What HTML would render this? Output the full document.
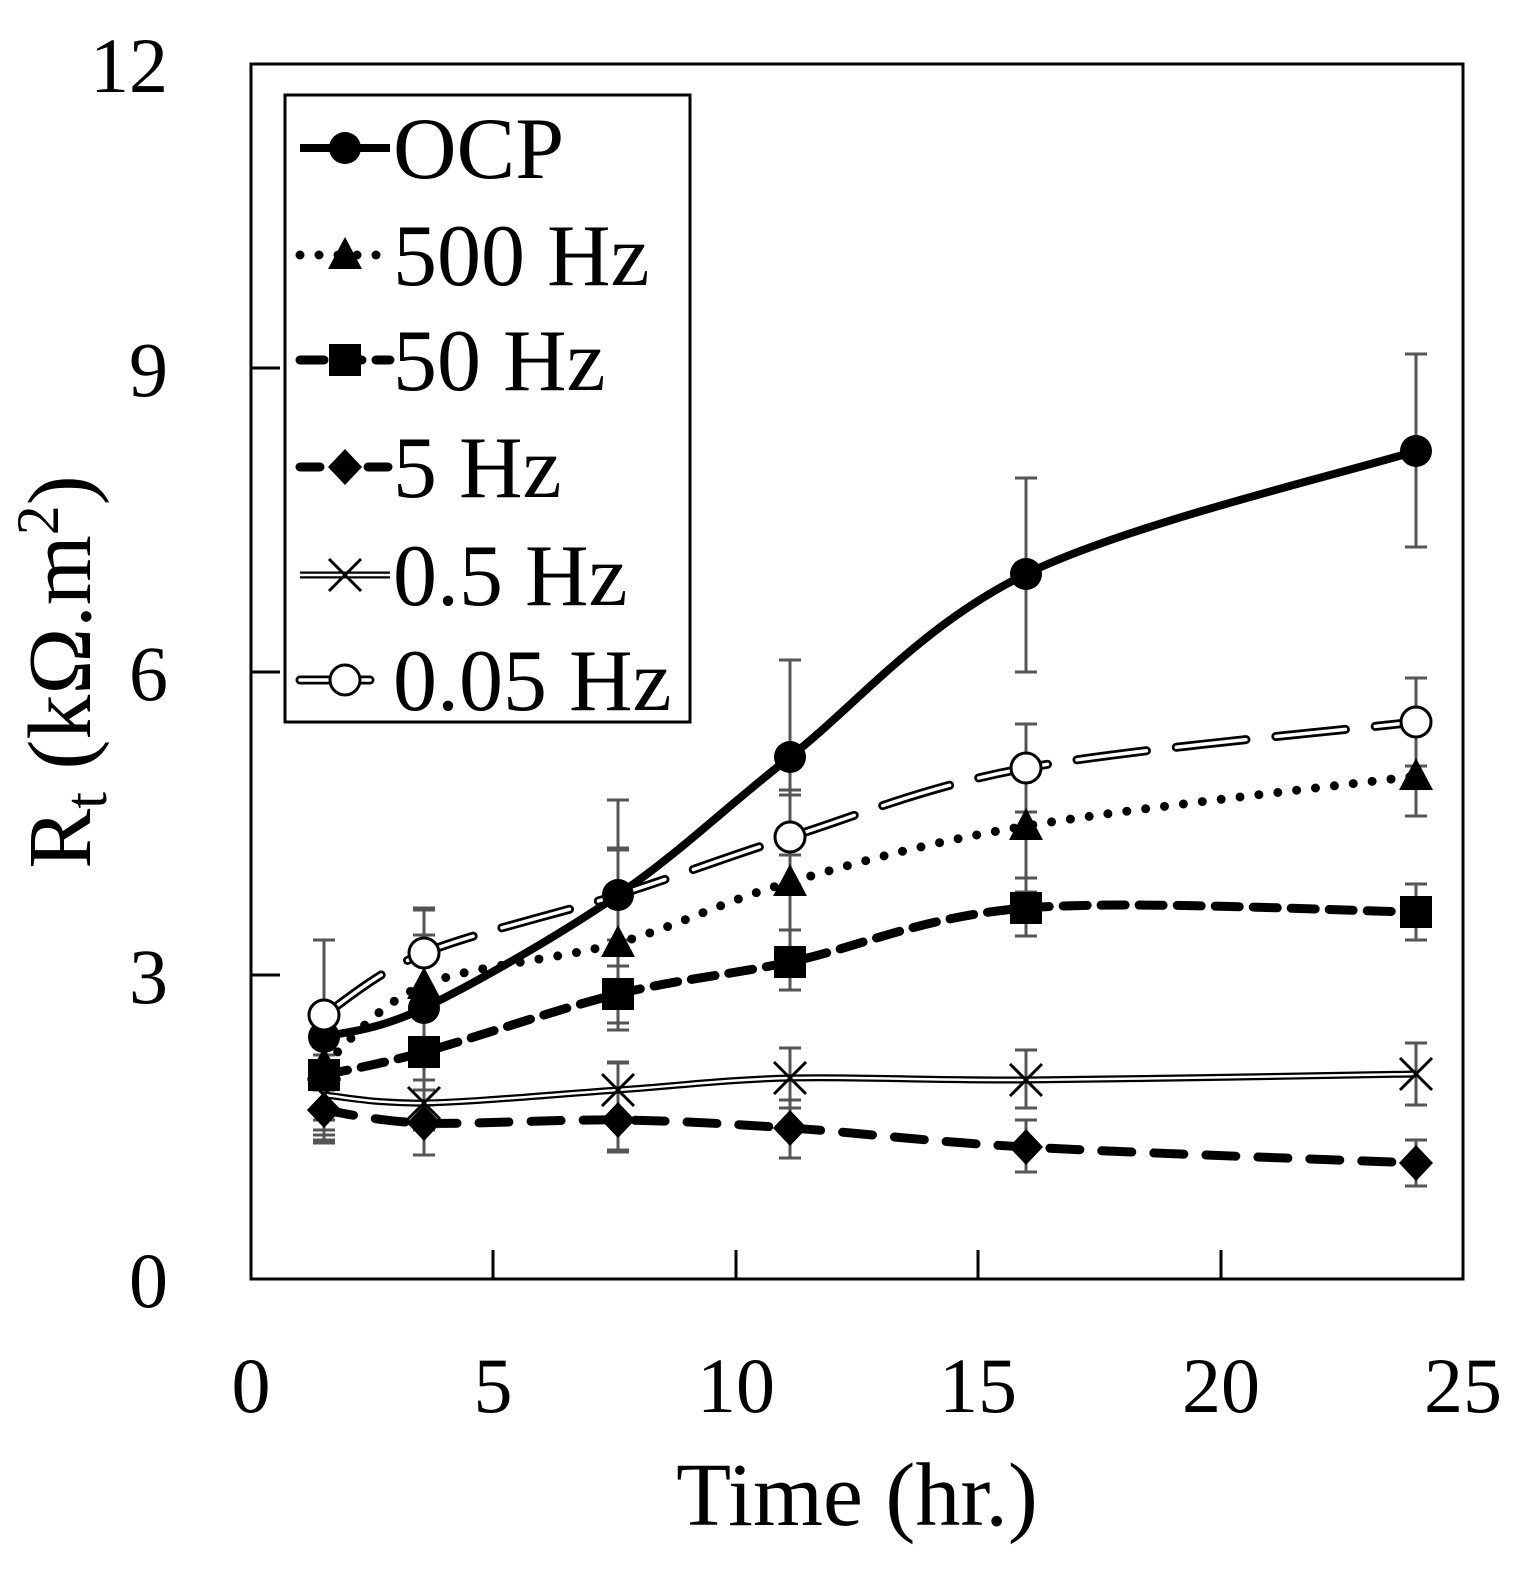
<!DOCTYPE html>
<html><head><meta charset="utf-8"><style>
html,body{margin:0;padding:0;background:#fff}
svg text{font-family:"Liberation Serif",serif;fill:#000}
</style></head><body>
<svg id="s" width="1529" height="1568" xmlns="http://www.w3.org/2000/svg">
<rect x="251" y="64" width="1212" height="1215" fill="none" stroke="#000" stroke-width="3"/>
<g stroke="#000" stroke-width="3">
<line x1="251" y1="368" x2="280" y2="368"/><line x1="251" y1="672" x2="280" y2="672"/><line x1="251" y1="975" x2="280" y2="975"/>
<line x1="493" y1="1279" x2="493" y2="1250"/><line x1="736" y1="1279" x2="736" y2="1250"/><line x1="978" y1="1279" x2="978" y2="1250"/><line x1="1221" y1="1279" x2="1221" y2="1250"/>
</g>
<g font-size="78" text-anchor="end">
<text x="168" y="92">12</text><text x="168" y="396">9</text><text x="168" y="700">6</text><text x="168" y="1003">3</text><text x="168" y="1307">0</text>
</g>
<g font-size="78" text-anchor="middle">
<text x="251" y="1412">0</text><text x="493" y="1412">5</text><text x="736" y="1412">10</text><text x="978" y="1412">15</text><text x="1221" y="1412">20</text><text x="1463" y="1412">25</text>
</g>
<text x="857" y="1525" font-size="90" text-anchor="middle">Time (hr.)</text>
<text transform="translate(90,672) rotate(-90)" font-size="90" text-anchor="middle">R<tspan font-size="60" dy="16">t</tspan><tspan dy="-16"> (kΩ.m</tspan><tspan font-size="60" dy="-32">2</tspan><tspan dy="32">)</tspan></text>
<g id="err" stroke="#555" stroke-width="3"></g>
<g id="lines"></g>
<g id="marks"></g>
<rect x="285" y="95" width="405" height="627" fill="#fff" stroke="#000" stroke-width="3"/>
<g id="leg"></g>
<g font-size="88">
<text x="393" y="178">OCP</text><text x="393" y="285">500 Hz</text><text x="393" y="390">50 Hz</text><text x="393" y="497">5 Hz</text><text x="393" y="605">0.5 Hz</text><text x="393" y="710">0.05 Hz</text>
</g>
</svg>
<script>
const X=[324,424,618,790,1026,1416];
const S=[
 {n:'ocp',y:[1037,1008,895,757,574,451],e:[[940,1130],[910,1105],[800,990],[660,855],[478,672],[354,547]]},
 {n:'500',y:[1065,985,943,882,826,776],e:[[1010,1120],[935,1040],[848,1030],[795,962],[760,892],[718,816]]},
 {n:'50',y:[1075,1052,994,962,908,912],e:[[1030,1140],[1000,1105],[966,1023],[930,990],[878,936],[884,940]]},
 {n:'5',y:[1110,1123,1120,1128,1147,1163],e:[[1080,1143],[1090,1155],[1063,1150],[1100,1158],[1120,1172],[1140,1186]]},
 {n:'05',y:[1095,1103,1090,1078,1080,1074],e:[[1055,1135],[1080,1130],[1062,1152],[1048,1108],[1050,1108],[1043,1105]]},
 {n:'005',y:[1015,953,null,837,768,722],e:[[940,1090],[908,1000],[850,940],[790,885],[724,812],[678,766]]}
];
const ns='http://www.w3.org/2000/svg';
function el(p,t,a){const e=document.createElementNS(ns,t);for(const k in a)e.setAttribute(k,a[k]);document.getElementById(p).appendChild(e);return e;}
function path(pts){let d='M'+pts[0][0]+','+pts[0][1];for(let i=0;i<pts.length-1;i++){const p0=pts[i-1]||pts[i],p1=pts[i],p2=pts[i+1],p3=pts[i+2]||p2;
d+=` C${p1[0]+(p2[0]-p0[0])/6},${p1[1]+(p2[1]-p0[1])/6} ${p2[0]-(p3[0]-p1[0])/6},${p2[1]-(p3[1]-p1[1])/6} ${p2[0]},${p2[1]}`;}return d;}
S.forEach(s=>{X.forEach((x,i)=>{const[a,b]=s.e[i];el('err','line',{x1:x,y1:a,x2:x,y2:b});el('err','line',{x1:x-11,y1:a,x2:x+11,y2:a});el('err','line',{x1:x-11,y1:b,x2:x+11,y2:b});});});
function style(n,g,d,leg){
 if(n=='ocp')el(g,'path',{d,fill:'none',stroke:'#000','stroke-width':8});
 if(n=='500')el(g,'path',{d,fill:'none',stroke:'#000','stroke-width':9,'stroke-dasharray':'0 19','stroke-linecap':'round'});
 if(n=='50')el(g,'path',{d,fill:'none',stroke:'#000','stroke-width':9,'stroke-dasharray':'24 14','stroke-linecap':'round'});
 if(n=='5')el(g,'path',{d,fill:'none',stroke:'#000','stroke-width':9,'stroke-dasharray':leg?'20 14':'30 22','stroke-linecap':'round'});
 if(n=='05'){el(g,'path',{d,fill:'none',stroke:'#000','stroke-width':7});el(g,'path',{d,fill:'none',stroke:'#fff','stroke-width':2.5});}
 if(n=='005'){el(g,'path',{d,fill:'none',stroke:'#000','stroke-width':9,'stroke-dasharray':'70 30','stroke-linecap':'round'});el(g,'path',{d,fill:'none',stroke:'#fff','stroke-width':3.5,'stroke-dasharray':'70 30','stroke-linecap':'round'});}
}
function mark(n,g,x,y){
 if(n=='ocp')el(g,'circle',{cx:x,cy:y,r:16,fill:'#000'});
 if(n=='500')el(g,'polygon',{points:`${x},${y-18} ${x+17},${y+14} ${x-17},${y+14}`,fill:'#000'});
 if(n=='50')el(g,'rect',{x:x-16,y:y-16,width:32,height:32,fill:'#000'});
 if(n=='5')el(g,'polygon',{points:`${x},${y-18} ${x+17},${y} ${x},${y+18} ${x-17},${y}`,fill:'#000'});
 if(n=='05'){el(g,'path',{d:`M${x-16},${y-16}L${x+16},${y+16}M${x+16},${y-16}L${x-16},${y+16}`,stroke:'#000','stroke-width':3});}
 if(n=='005')el(g,'circle',{cx:x,cy:y,r:15,fill:'#fff',stroke:'#000','stroke-width':3});
}
S.forEach(s=>{let pts=X.map((x,i)=>[x,s.y[i]]);let pp=pts.filter(p=>p[1]!=null);if(s.n=='005')pp=[pts[0],pts[1],[618,895],pts[3],pts[4],pts[5]];
style(s.n,'lines',path(pp));pts.forEach(p=>{if(p[1]!=null)mark(s.n,'marks',p[0],p[1]);});});
const LY=[148,255,360,467,575,680];
S.forEach((s,i)=>{style(s.n,'leg',`M300,${LY[i]} L390,${LY[i]}`,true);mark(s.n,'leg',345,LY[i]);});
</script>
</body></html>
